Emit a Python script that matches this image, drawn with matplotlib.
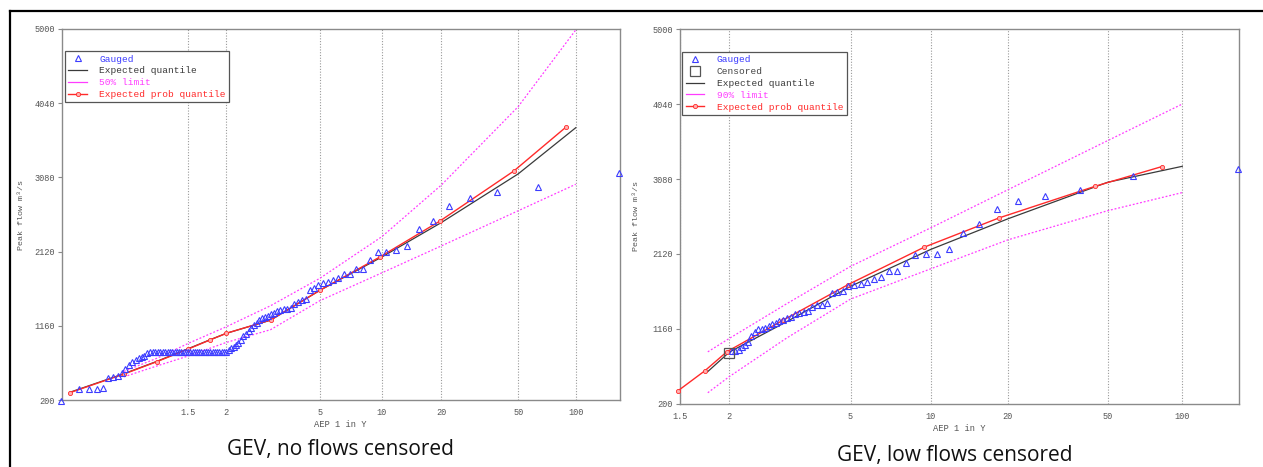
import numpy as np
import matplotlib
matplotlib.use("Agg")
import matplotlib.pyplot as plt
from matplotlib.lines import Line2D
from matplotlib.ticker import FixedLocator, FixedFormatter, NullLocator

# ---------------- data ----------------
n_record = 101  # length of the gauged record (Cunnane plotting positions)

# Left panel: GEV, no flows censored  (gauged peaks, largest first, m3/s)
left_gauged = [3140, 2956, 2888, 2814, 2710, 2516, 2409, 2193, 2141, 2119, 2119, 2012,
               1895, 1895, 1830, 1826, 1779, 1753, 1733, 1714, 1682, 1649, 1623,
               1503, 1488, 1464, 1445, 1393, 1381, 1377, 1368, 1352, 1330, 1309, 1291,
               1274, 1257, 1233, 1190, 1164, 1134, 1095, 1058, 1031, 974, 935, 910, 883,
               870, 850,
               825, 825, 825, 825, 825, 825, 825, 825, 825, 825, 825, 825, 825, 825,
               825, 825, 825, 825, 825, 825, 825, 825, 825, 825, 825, 825, 825, 825,
               825, 825, 825, 825, 825, 825,
               804, 769, 756, 741, 718, 698, 653, 595, 543, 513, 500, 487, 351, 346,
               338, 338, 187]

left_eq_Y = [1.01, 1.1, 1.25, 1.5, 1.75, 2, 3, 5, 10, 20, 50, 100]
left_eq_flow = [300, 540, 700, 865, 978, 1063, 1233, 1620, 2050, 2495, 3125, 3723]

left_ep_Y = [1.01, 1.1, 1.25, 1.5, 1.75, 2, 3, 5.03, 9.83, 19.6, 47.5, 89.1]
left_ep_flow = [295, 536, 696, 860, 976, 1063, 1235, 1623, 2054, 2512, 3163, 3733]

left_up_Y = [1.1, 1.25, 1.5, 2, 3, 5, 10, 20, 50, 100]
left_up_flow = [570, 740, 933, 1148, 1420, 1775, 2313, 2980, 3995, 4988]
left_lo_Y = [1.1, 1.25, 1.5, 2, 3, 5, 10, 20, 50, 100]
left_lo_flow = [500, 640, 770, 945, 1110, 1485, 1845, 2193, 2648, 2991]

# Right panel: GEV, low flows censored
right_gauged = [3211, 3125, 2942, 2865, 2796, 2699, 2507, 2386, 2178, 2123, 2114, 2105,
                2007, 1900, 1900, 1823, 1803, 1755, 1737, 1723, 1704, 1650, 1630, 1614,
                1486, 1470, 1467, 1442, 1387, 1378, 1365, 1349, 1316, 1297, 1275, 1259,
                1237, 1215, 1192, 1169, 1160, 1150, 1119, 1064, 991, 955, 930, 891, 878,
                872]
right_cens_Y = [2.0]
right_cens_flow = [850]

right_eq_Y = [1.75, 2, 3, 5, 10, 20, 50, 100]
right_eq_flow = [610, 859, 1250, 1704, 2178, 2570, 3039, 3244]

right_ep_Y = [1.487, 1.72, 1.97, 2.92, 4.9, 9.44, 18.5, 44.6, 82.6]
right_ep_flow = [366, 620, 865, 1269, 1726, 2207, 2583, 2988, 3240]

right_up_Y = [1.75, 2, 3, 5, 10, 20, 50, 100]
right_up_flow = [863, 1035, 1480, 1960, 2455, 2943, 3573, 4043]
right_lo_Y = [1.75, 2, 3, 5, 10, 20, 50, 100]
right_lo_flow = [338, 545, 1040, 1540, 1929, 2300, 2674, 2907]

x_tick_Y = [1.5, 2, 5, 10, 20, 50, 100]
x_tick_labels = ["1.5", "2", "5", "10", "20", "50", "100"]
y_ticks = [200, 1160, 2120, 3080, 4040, 5000]

captions = ["GEV, no flows censored", "GEV, low flows censored"]

# ---------------- helpers ----------------
def fwd(Y):
    Y = np.asarray(Y, float)
    with np.errstate(all="ignore"):
        return -np.log(-np.log(1.0 - 1.0 / Y))


def inv(g):
    g = np.asarray(g, float)
    with np.errstate(all="ignore"):
        return 1.0 / (1.0 - np.exp(-np.exp(-g)))


def plotting_Y(count):
    ranks = np.arange(1, count + 1)
    return (n_record + 0.2) / (ranks - 0.4)


MONO = "Liberation Mono"
C_BLUE = "#3c3cff"
C_BLACK = "#3a3a3a"
C_MAG = "#ff3cff"
C_RED = "#ff2a2a"
C_SPINE = "#8a8a8a"

W, H = 1263, 467
fig = plt.figure(figsize=(W / 100, H / 100), dpi=100)
fig.patch.set_facecolor("white")


def make_axes(l, t, r, b):
    return fig.add_axes([l / W, 1 - b / H, (r - l) / W, (b - t) / H])


axL = make_axes(62, 29, 619.5, 400)
axR = make_axes(680, 29.5, 1238.5, 403.5)


def style(ax, xlim, ylabel_x):
    ax.set_xscale("function", functions=(fwd, inv))
    ax.set_xlim(*xlim)
    ax.set_ylim(200, 5000)
    ax.xaxis.set_major_locator(FixedLocator(x_tick_Y))
    ax.xaxis.set_major_formatter(FixedFormatter(x_tick_labels))
    ax.xaxis.set_minor_locator(NullLocator())
    ax.yaxis.set_major_locator(FixedLocator(y_ticks))
    ax.yaxis.set_minor_locator(NullLocator())
    for s in ax.spines.values():
        s.set_color(C_SPINE)
        s.set_linewidth(1.0)
    ax.tick_params(axis="x", length=0, pad=6, labelsize=6.2, labelcolor="#555555")
    ax.tick_params(axis="y", length=3, width=0.8, color=C_SPINE, pad=2,
                   labelsize=6.2, labelcolor="#555555")
    for lab in ax.get_xticklabels() + ax.get_yticklabels():
        lab.set_fontfamily(MONO)
    ax.grid(axis="x", color="#9a9a9a", linestyle=(0, (1, 1.5)), linewidth=0.8)
    ax.set_axisbelow(True)
    ax.set_xlabel("AEP 1 in Y", fontfamily=MONO, fontsize=6.3, color="#555555", labelpad=2)
    ax.set_ylabel("Peak flow m\u00b3/s", fontfamily=MONO, fontsize=6.0, color="#555555")
    ax.yaxis.set_label_coords(ylabel_x, 0.5)


style(axL, (inv(-1.625), inv(5.13)), -0.066)
style(axR, (1.5, inv(5.126)), -0.072)

# ---------------- left panel ----------------
ax = axL
ax.plot(left_up_Y, left_up_flow, color=C_MAG, lw=0.9, ls=(0, (1.5, 1.5)), zorder=3)
ax.plot(left_lo_Y, left_lo_flow, color=C_MAG, lw=0.9, ls=(0, (1.5, 1.5)), zorder=3)
ax.plot(left_eq_Y, left_eq_flow, color=C_BLACK, lw=0.9, zorder=4)
ax.plot(left_ep_Y, left_ep_flow, color=C_RED, lw=1.0, marker="o", ms=3, mfc="#ffb0b0",
        mec=C_RED, mew=0.6, zorder=5)
ax.plot(plotting_Y(len(left_gauged)), left_gauged, ls="none", marker="^", ms=4.5,
        mfc="none", mec=C_BLUE, mew=0.8, zorder=6, clip_on=False)

handlesL = [
    Line2D([], [], ls="none", marker="^", ms=4.5, mfc="none", mec=C_BLUE, mew=0.8),
    Line2D([], [], color=C_BLACK, lw=0.9),
    Line2D([], [], color=C_MAG, lw=0.9),
    Line2D([], [], color=C_RED, lw=1.0, marker="o", ms=3, mfc="#ffb0b0", mec=C_RED, mew=0.6),
]
labelsL = ["Gauged", "Expected quantile", "50% limit", "Expected prob quantile"]
colorsL = [C_BLUE, C_BLACK, C_MAG, C_RED]
legL = ax.legend(handlesL, labelsL, loc="upper left", bbox_to_anchor=(0.005, 0.94),
                 prop={"family": MONO, "size": 6.8}, frameon=True, fancybox=False,
                 edgecolor="#555555", framealpha=1, handlelength=2.0, handletextpad=1.3,
                 labelspacing=0.3, borderpad=0.35, borderaxespad=0)
legL.get_frame().set_linewidth(0.9)
for t, c in zip(legL.get_texts(), colorsL):
    t.set_color(c)

# ---------------- right panel ----------------
ax = axR
ax.plot(right_up_Y, right_up_flow, color=C_MAG, lw=0.9, ls=(0, (1.5, 1.5)), zorder=3)
ax.plot(right_lo_Y, right_lo_flow, color=C_MAG, lw=0.9, ls=(0, (1.5, 1.5)), zorder=3)
ax.plot(right_eq_Y, right_eq_flow, color=C_BLACK, lw=0.9, zorder=4)
ax.plot(right_ep_Y, right_ep_flow, color=C_RED, lw=1.0, marker="o", ms=3, mfc="#ffb0b0",
        mec=C_RED, mew=0.6, zorder=5, clip_on=False)
ax.plot(plotting_Y(len(right_gauged)), right_gauged, ls="none", marker="^", ms=4.5,
        mfc="none", mec=C_BLUE, mew=0.8, zorder=6, clip_on=False)
ax.plot(right_cens_Y, right_cens_flow, ls="none", marker="s", ms=7.5, mfc="none",
        mec="#555555", mew=0.9, zorder=7)

handlesR = [
    Line2D([], [], ls="none", marker="^", ms=4.5, mfc="none", mec=C_BLUE, mew=0.8),
    Line2D([], [], ls="none", marker="s", ms=7.5, mfc="none", mec="#555555", mew=0.9),
    Line2D([], [], color=C_BLACK, lw=0.9),
    Line2D([], [], color=C_MAG, lw=0.9),
    Line2D([], [], color=C_RED, lw=1.0, marker="o", ms=3, mfc="#ffb0b0", mec=C_RED, mew=0.6),
]
labelsR = ["Gauged", "Censored", "Expected quantile", "90% limit", "Expected prob quantile"]
colorsR = [C_BLUE, "#444444", C_BLACK, C_MAG, C_RED]
legR = ax.legend(handlesR, labelsR, loc="upper left", bbox_to_anchor=(0.004, 0.94),
                 prop={"family": MONO, "size": 6.8}, frameon=True, fancybox=False,
                 edgecolor="#555555", framealpha=1, handlelength=2.0, handletextpad=1.3,
                 labelspacing=0.3, borderpad=0.35, borderaxespad=0)
legR.get_frame().set_linewidth(0.9)
for t, c in zip(legR.get_texts(), colorsR):
    t.set_color(c)

# ---------------- captions and frame ----------------
fig.text(340 / W, 1 - 450 / H, captions[0], ha="center", va="center",
         fontfamily="Open Sans", fontsize=15, color="#111111")
fig.text(955 / W, 1 - 455 / H, captions[1], ha="center", va="center",
         fontfamily="Open Sans", fontsize=15, color="#111111")

fig.add_artist(Line2D([10 / W, 1.0], [1 - 11 / H, 1 - 11 / H], color="black", lw=1.6,
                      transform=fig.transFigure))
fig.add_artist(Line2D([10 / W, 10 / W], [1 - 11 / H, 0.0], color="black", lw=1.6,
                      transform=fig.transFigure))

fig.savefig("out.png", dpi=100)
